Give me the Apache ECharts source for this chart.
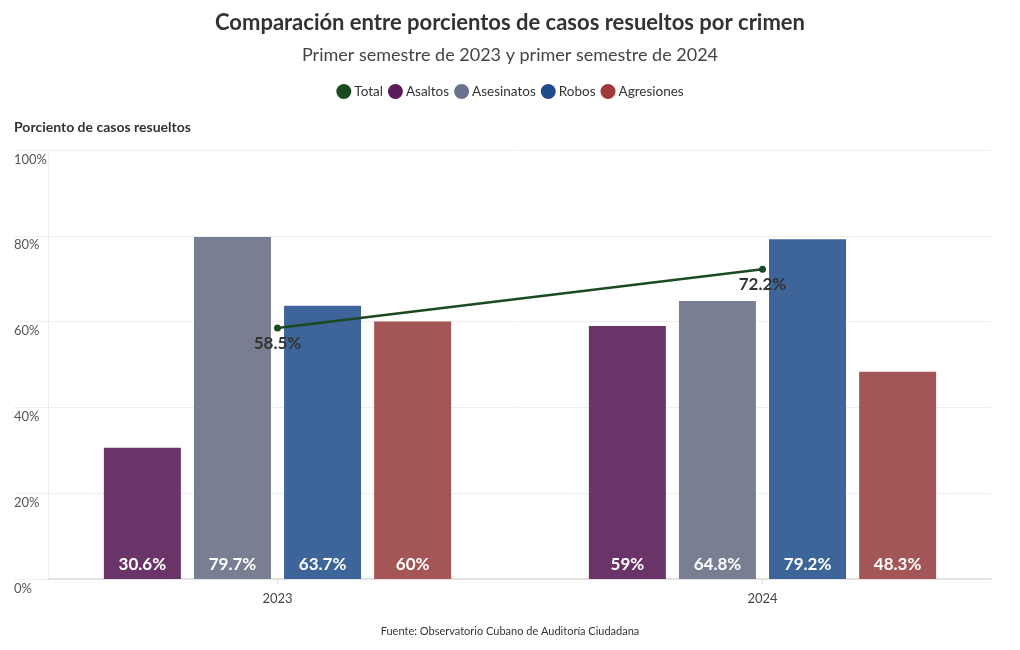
<!DOCTYPE html>
<html>
<head>
<meta charset="utf-8">
<script src="https://cdn.jsdelivr.net/npm/echarts@6/dist/echarts.min.js"></script>
<style>
  html, body { margin: 0; padding: 0; background: #ffffff; }
  #chart { width: 1020px; height: 650px; }
</style>
</head>
<body>
<div id="chart"></div>
<script>
const years = ['2023', '2024'];
const asaltos = [30.6, 59];
const asesinatos = [79.7, 64.8];
const robos = [63.7, 79.2];
const agresiones = [60, 48.3];
const total = [58.5, 72.2];
const yTicks = [0, 20, 40, 60, 80, 100];

const FONT = 'Lato, "Noto Sans", sans-serif';
const legendColors = {
  Total: '#1b4a22', Asaltos: '#5c1b5b', Asesinatos: '#6a7390', Robos: '#1f4a8c', Agresiones: '#a23838'
};
const barColors = {
  Asaltos: '#6b3468', Asesinatos: '#787f93', Robos: '#3e659a', Agresiones: '#a45656'
};

const chart = echarts.init(document.getElementById('chart'), null, { renderer: 'canvas' });

function barSeries(name, data) {
  return {
    name: name,
    type: 'bar',
    xAxisIndex: 1,
    yAxisIndex: 1,
    data: data,
    barWidth: 77,
    barGap: '17%',
    itemStyle: { color: barColors[name] },
    label: {
      show: true,
      position: 'insideBottom',
      distance: 6,
      color: '#ffffff',
      fontFamily: FONT,
      fontWeight: 'bold',
      fontSize: 17,
      formatter: p => p.value + '%'
    },
    emphasis: { disabled: true }
  };
}

const option = {
  animation: false,
  backgroundColor: '#ffffff',
  title: [
    {
      text: 'Comparación entre porcientos de casos resueltos por crimen',
      left: 'center', top: 12, padding: 0,
      textStyle: { fontFamily: FONT, fontWeight: 'bold', fontSize: 22, color: '#333333' }
    },
    {
      text: 'Primer semestre de 2023 y primer semestre de 2024',
      left: 'center', top: 46, padding: 0,
      textStyle: { fontFamily: FONT, fontWeight: 'normal', fontSize: 18, color: '#444444' }
    },
    {
      text: 'Porciento de casos resueltos',
      left: 14, top: 120, padding: 0,
      textStyle: { fontFamily: FONT, fontWeight: 'bold', fontSize: 14, color: '#333333' }
    },
    {
      text: 'Fuente: Observatorio Cubano de Auditoría Ciudadana',
      left: 'center', top: 626, padding: 0,
      textStyle: { fontFamily: FONT, fontWeight: 'normal', fontSize: 11, color: '#333333' }
    }
  ],
  legend: {
    top: 79,
    left: 'center',
    icon: 'circle',
    itemWidth: 15,
    itemHeight: 15,
    itemGap: 5,
    textStyle: { fontFamily: FONT, fontSize: 13.5, color: '#333333', padding: [0, 0, 0, -2] },
    data: ['Total', 'Asaltos', 'Asesinatos', 'Robos', 'Agresiones'].map(n => ({
      name: n, itemStyle: { color: legendColors[n] }
    })),
    selectedMode: false
  },
  grid: [
    { left: 48, right: 29, top: 150, bottom: 71 },
    { left: 35, right: 15, top: 150, bottom: 71 }
  ],
  xAxis: [
    {
      type: 'category', gridIndex: 0, data: years,
      axisLine: { show: true, lineStyle: { color: '#e3e3e3', width: 2 } },
      axisTick: { show: false },
      axisLabel: { show: false },
      splitLine: { show: false }
    },
    {
      type: 'category', gridIndex: 1, data: years,
      axisLine: { show: false },
      axisTick: { show: true, alignWithLabel: true, length: 6, lineStyle: { color: '#dddddd' } },
      axisLabel: { show: true, margin: 13, fontFamily: FONT, fontSize: 13, color: '#444444' },
      splitLine: { show: false }
    }
  ],
  yAxis: [
    {
      type: 'value', gridIndex: 0, min: 0, max: 100, interval: 20,
      axisLine: { show: true, lineStyle: { color: '#eeeeee', width: 1 } },
      axisTick: { show: true, inside: false, length: 34, lineStyle: { color: '#eeeeee' } },
      axisLabel: {
        show: true, align: 'left', verticalAlign: 'top', margin: 34,
        padding: [3, 0, 0, 0],
        fontFamily: FONT, fontSize: 13, color: '#555555',
        formatter: v => (yTicks.includes(v) ? v + '%' : '')
      },
      splitLine: { show: true, lineStyle: { color: '#eeeeee', width: 1 } }
    },
    {
      type: 'value', gridIndex: 1, min: 0, max: 100, interval: 20,
      show: false,
      splitLine: { show: false }
    }
  ],
  series: [
    barSeries('Asaltos', asaltos),
    barSeries('Asesinatos', asesinatos),
    barSeries('Robos', robos),
    barSeries('Agresiones', agresiones),
    {
      name: 'Total',
      type: 'line',
      xAxisIndex: 1,
      yAxisIndex: 1,
      data: total,
      z: 5,
      symbol: 'circle',
      symbolSize: 7,
      itemStyle: { color: '#1b4a22' },
      lineStyle: { color: '#1b4a22', width: 2.5 },
      label: {
        show: true,
        position: 'bottom',
        distance: 3,
        fontFamily: FONT,
        fontWeight: 'bold',
        fontSize: 17,
        color: '#333333',
        formatter: p => p.value + '%'
      },
      emphasis: { disabled: true }
    }
  ]
};

chart.setOption(option);
</script>
</body>
</html>
